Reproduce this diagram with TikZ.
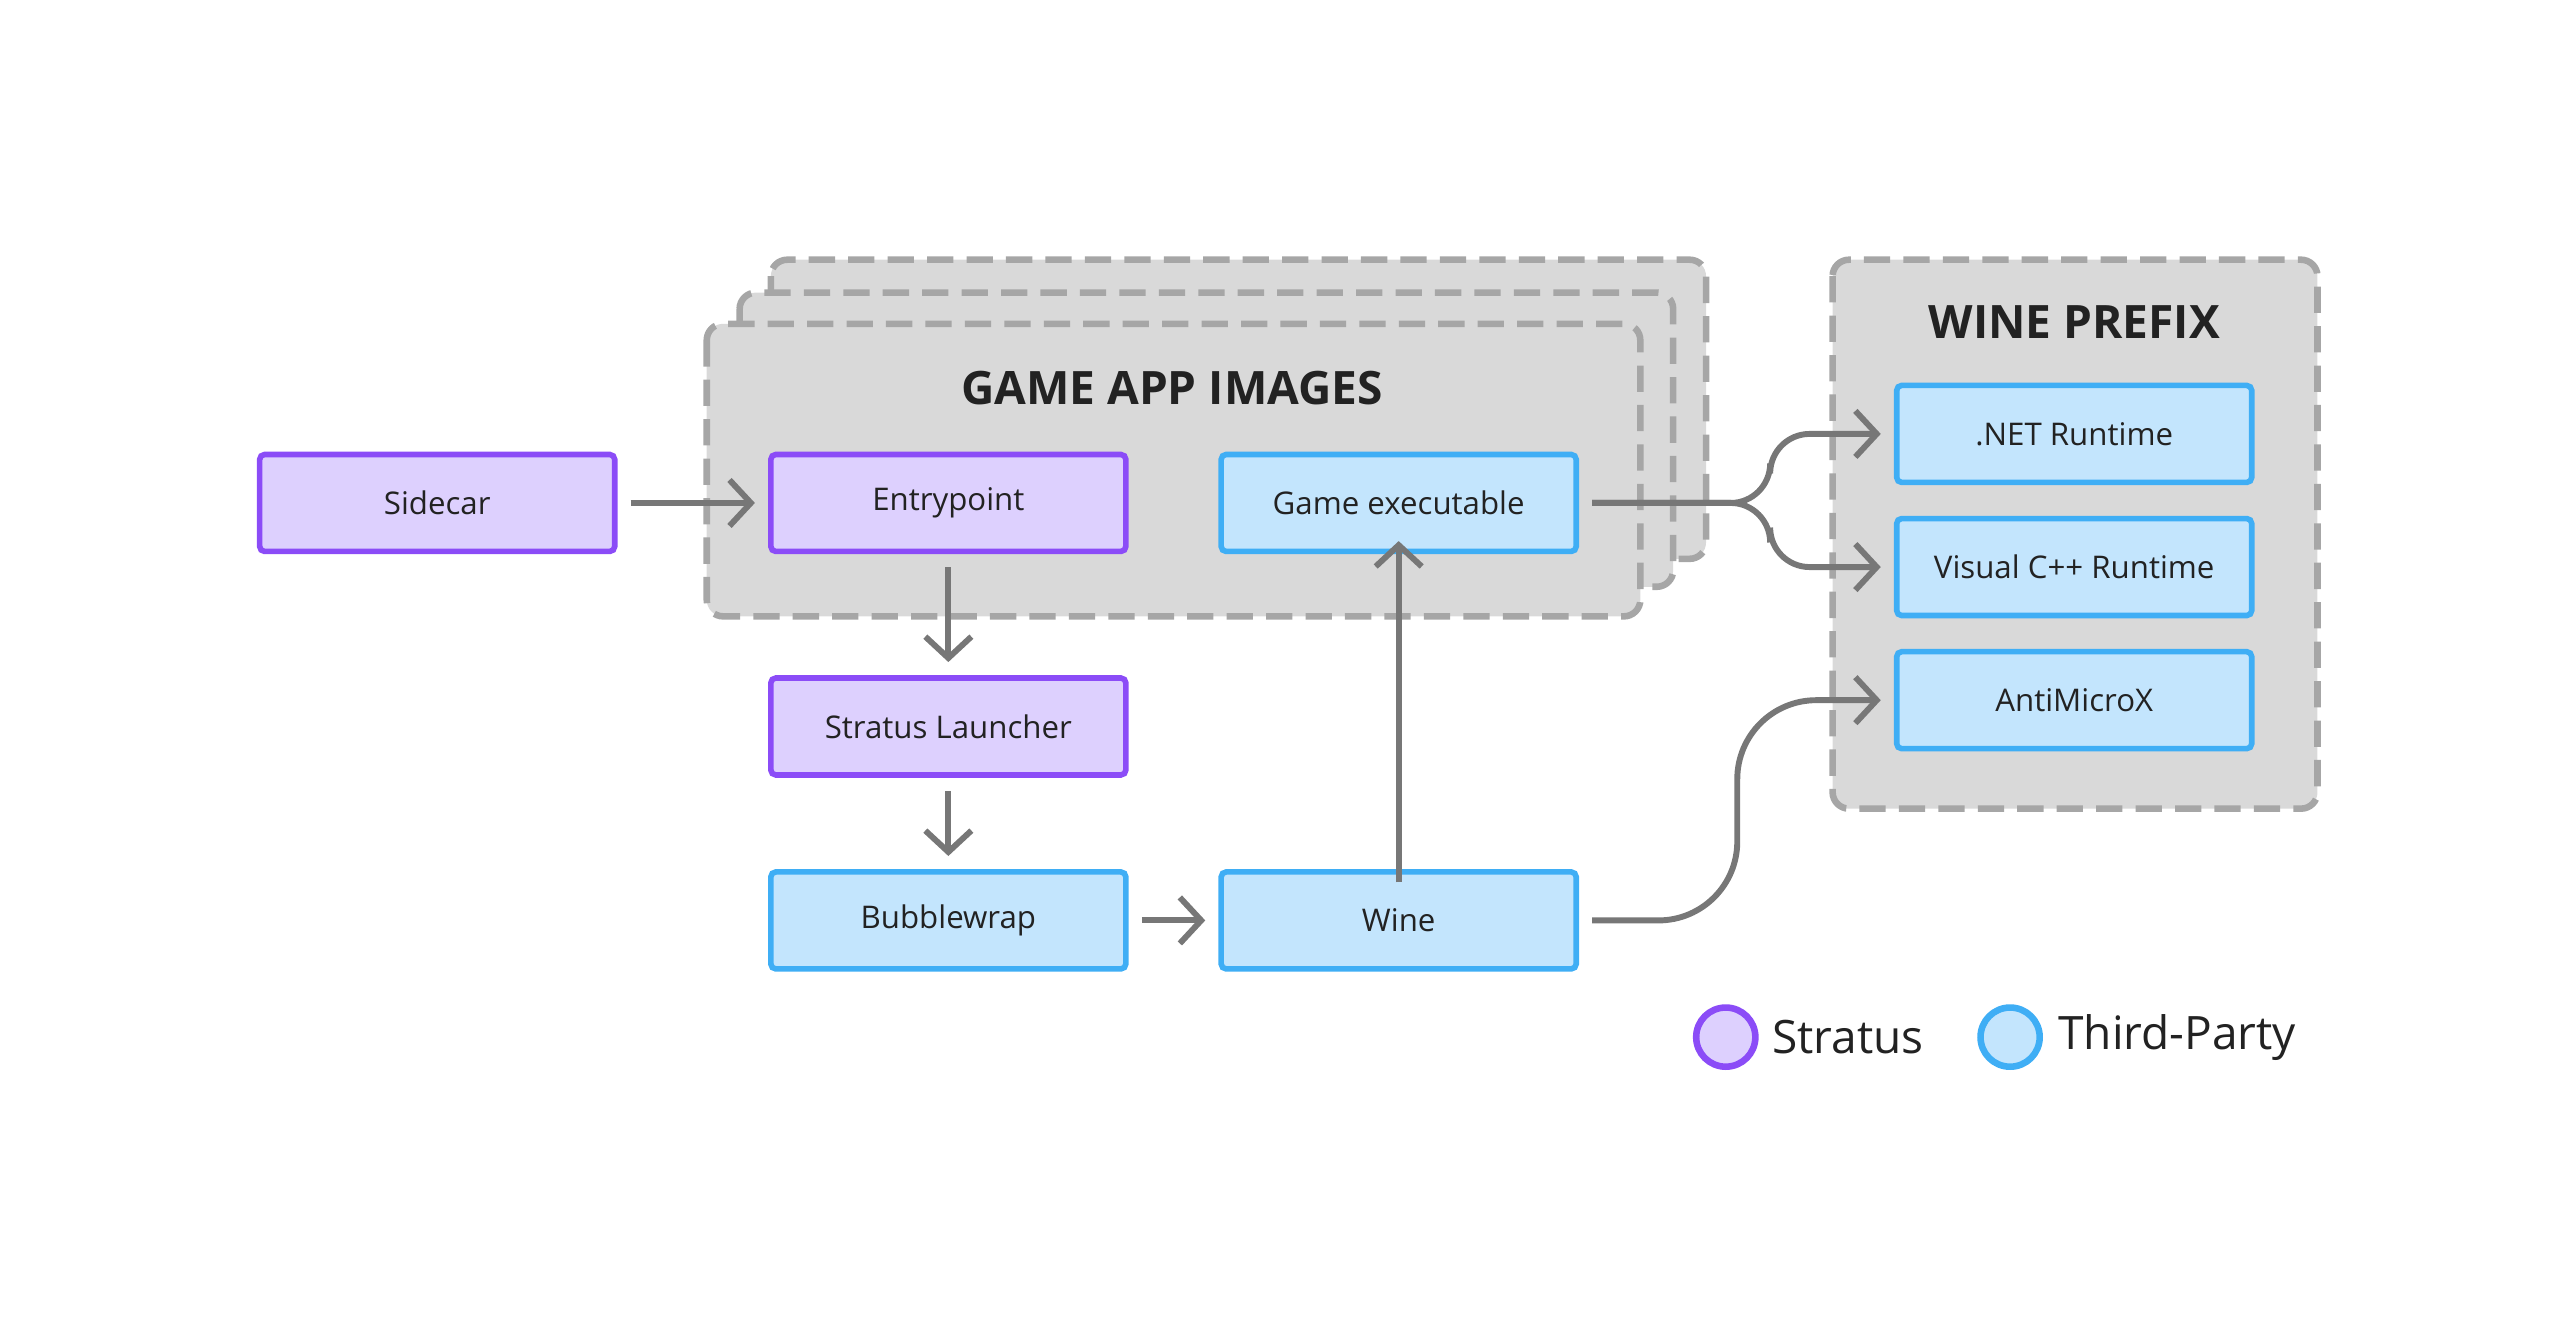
\documentclass[tikz,border=0pt]{standalone}
\usepackage{fontspec}
\setmainfont{Open Sans}
\usetikzlibrary{arrows.meta}
\definecolor{pb}{HTML}{8B4CF7}\definecolor{pf}{HTML}{DDD0FE}
\definecolor{bb}{HTML}{3FAEF5}\definecolor{bf}{HTML}{C3E5FD}
\definecolor{gf}{HTML}{D9D9D9}\definecolor{gb}{HTML}{A6A6A6}
\definecolor{ar}{HTML}{777777}\definecolor{tx}{HTML}{222222}
\begin{document}
\begin{tikzpicture}[x=0.5pt,y=-0.5pt,
  box/.style={draw,line width=1.7pt,rounded corners=1.5pt,minimum width=108pt,minimum height=29.5pt,inner sep=0pt,font=\fontsize{9.5}{11}\selectfont,text=tx},
  strat/.style={box,draw=pb,fill=pf},
  third/.style={box,draw=bb,fill=bf},
  cont/.style={draw=gb,fill=gf,line width=2pt,dash pattern=on 8pt off 4pt,rounded corners=5pt},
  arr/.style={draw=ar,line width=1.8pt,-{Straight Barb[length=6.5pt,width=14pt,line width=1.8pt]},rounded corners=12pt},
  ttl/.style={font=\bfseries\fontsize{14}{16}\selectfont,text=tx}]
\useasboundingbox (0,0) rectangle (1560,805);
\draw[cont] (469,158) rectangle (1038,340);
\draw[cont] (450,178) rectangle (1018,357);
\draw[cont] (430,197) rectangle (998,375);
\node[ttl] (gt) at (713,236) {GAME APP IMAGES};
\draw[cont] (1115,158) rectangle (1410,492);
\node[ttl] (wt) at (1262,196) {WINE PREFIX};
\node[strat] (side) at (266,306) {Sidecar};
\node[strat] (entry) at (577,306) {Entrypoint};
\node[third] (game) at (851,306) {Game executable};
\node[strat] (launch) at (577,442) {Stratus Launcher};
\node[third] (bw) at (577,560) {Bubblewrap};
\node[third] (wine) at (851,560) {Wine};
\node[third] (net) at (1262,264) {.NET Runtime};
\node[third] (vc) at (1262,345) {Visual C++ Runtime};
\node[third] (amx) at (1262,426) {AntiMicroX};
\draw[arr] ([xshift=4pt]side.east) -- ([xshift=-4pt]entry.west);
\draw[arr] ([yshift=-4pt]entry.south) -- ([yshift=4pt]launch.north);
\draw[arr] ([yshift=-4pt]launch.south) -- ([yshift=4pt]bw.north);
\draw[arr] ([xshift=4pt]bw.east) -- ([xshift=-4pt]wine.west);
\draw[arr] ([yshift=-4pt]wine.north) -- ([yshift=4pt]game.south);
\draw[arr] ([xshift=4pt]game.east) -- (1077,306) -- (1077,264) -- ([xshift=-4pt]net.west);
\draw[arr] ([xshift=4pt]game.east) -- (1077,306) -- (1077,345) -- ([xshift=-4pt]vc.west);
\draw[arr,rounded corners=24pt] ([xshift=4pt]wine.east) -- (1057,560) -- (1057,426) -- ([xshift=-4pt]amx.west);
\node[circle,draw=pb,fill=pf,line width=2pt,minimum size=18pt,inner sep=0pt] (l1) at (1050,631) {};
\node[anchor=west,font=\fontsize{14}{16}\selectfont,text=tx,inner sep=0pt] (l1t) at (1078,631) {Stratus};
\node[circle,draw=bb,fill=bf,line width=2pt,minimum size=18pt,inner sep=0pt] (l2) at (1223,631) {};
\node[anchor=west,font=\fontsize{14}{16}\selectfont,text=tx,inner sep=0pt] (l2t) at (1252,631) {Third-Party};
\end{tikzpicture}
\end{document}
